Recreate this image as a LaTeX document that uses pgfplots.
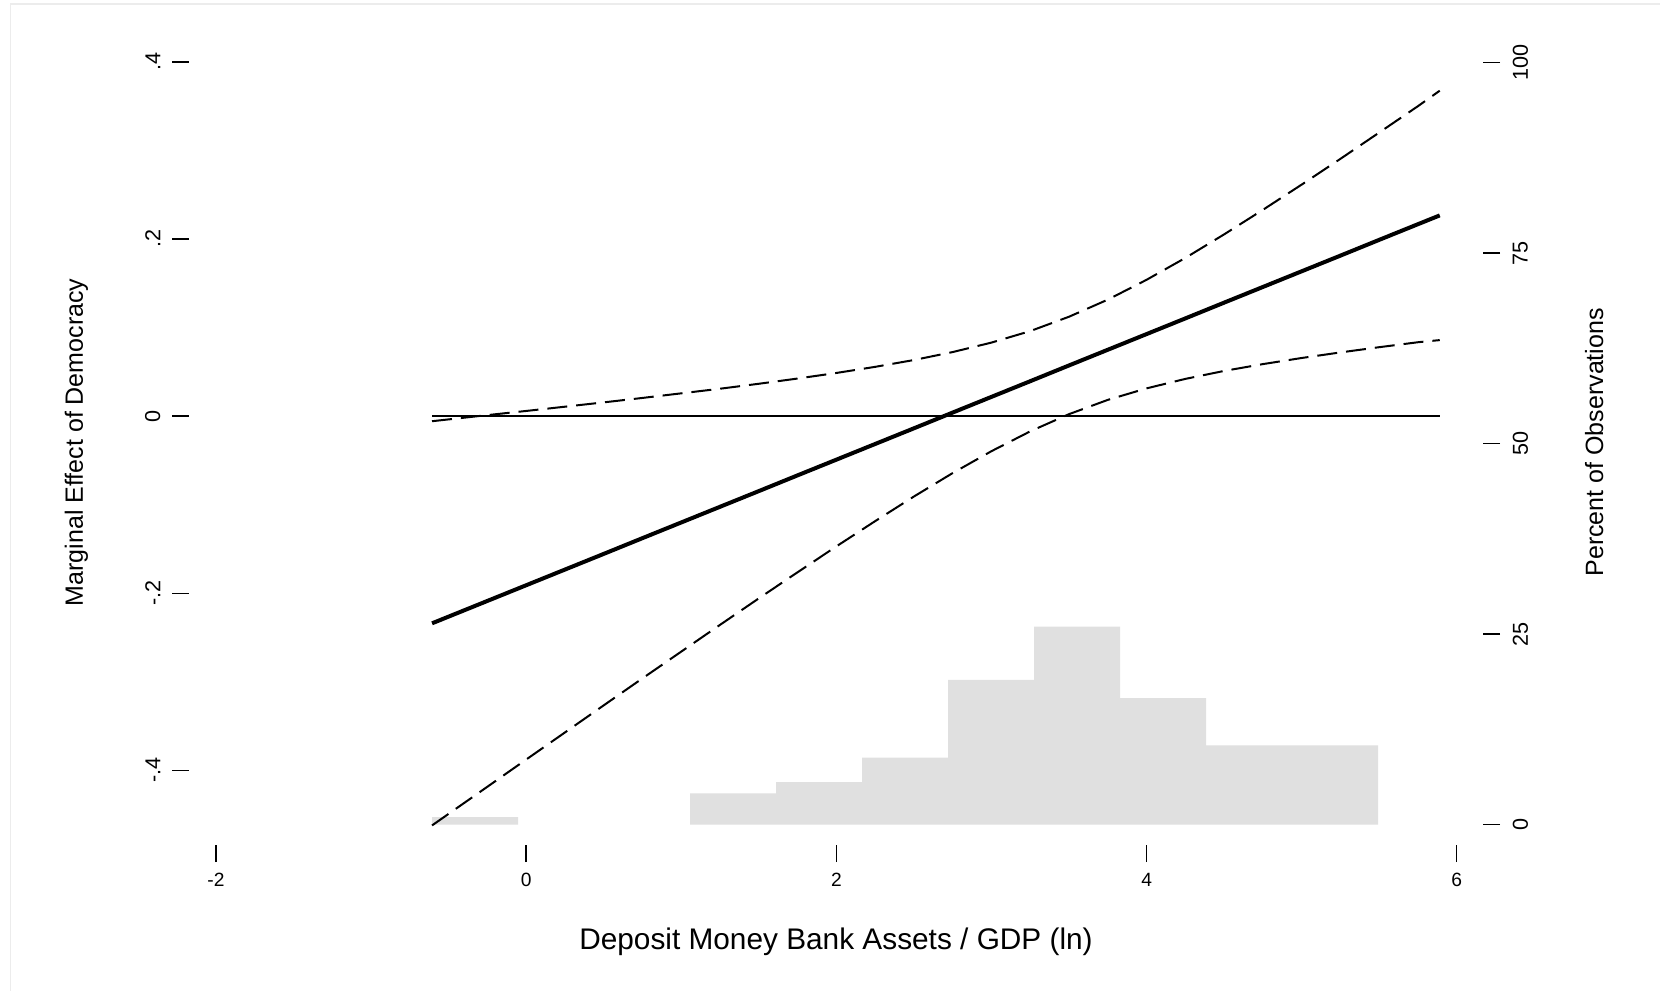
\documentclass[border=0pt]{standalone}
\usepackage{fontspec}
\setmainfont{Liberation Sans}
\usepackage{pgfplots}
\pgfplotsset{compat=1.18}
\usepackage{pgfplotstable}

\definecolor{histgray}{RGB}{224,224,224}
\definecolor{framegray}{RGB}{236,236,236}

% Marginal effect of democracy with 95% confidence bounds
\pgfplotstableread{
x       m        upper    lower
-0.607  -0.2340  -0.0058  -0.4622
-0.25   -0.2087   0.0011  -0.4185
0.00    -0.1910   0.0058  -0.3878
0.25    -0.1733   0.0106  -0.3572
0.50    -0.1556   0.0155  -0.3266
0.75    -0.1378   0.0205  -0.2961
1.00    -0.1201   0.0257  -0.2659
1.25    -0.1024   0.0309  -0.2357
1.50    -0.0847   0.0365  -0.2058
1.75    -0.0669   0.0424  -0.1763
2.00    -0.0492   0.0487  -0.1471
2.25    -0.0315   0.0556  -0.1186
2.50    -0.0138   0.0633  -0.0908
2.75     0.0040   0.0723  -0.0643
3.00     0.0217   0.0830  -0.0396
3.25     0.0394   0.0960  -0.0172
3.50     0.0572   0.1122   0.0022
3.75     0.0749   0.1315   0.0183
4.00     0.0926   0.1539   0.0313
4.25     0.1103   0.1786   0.0420
4.50     0.1281   0.2052   0.0510
4.75     0.1458   0.2329   0.0587
5.00     0.1635   0.2614   0.0656
5.25     0.1812   0.2905   0.0719
5.50     0.1990   0.3202   0.0778
5.75     0.2167   0.3500   0.0834
5.89     0.2266   0.3674   0.0858
}\effect

% Distribution of observations: percent per bin, left bin edges
% (the two empty bins between -0.052 and 1.057 are left out)
\pgfplotstableread{
edge    pct
-0.607  1.0
-0.052  1.0
}\histlow
\pgfplotstableread{
edge    pct
1.057   4.1
1.611   5.6
2.166   8.8
2.720   19.0
3.275   26.0
3.829   16.6
4.384   10.4
4.938   10.4
5.493   10.4
}\histhigh

\pgfplotsset{
  stataframe/.style={
    scale only axis,
    width=647pt, height=402.65pt,
    at={(94.5pt,73pt)}, anchor=south west,
    axis line style={draw=none},
    tick align=outside,
    major tick length=8.5pt,
    tick style={black, line width=0.7pt},
    xmin=-2.174, xmax=6.169,
    /pgf/number format/assume math mode=true,
    tick label style={font=\fontsize{9.6}{11}\selectfont},
  }
}

\begin{document}
\begin{tikzpicture}
\useasboundingbox (0,0) rectangle (830pt,495.5pt);
\fill[white] (0,0) rectangle (830pt,495.5pt);
\draw[framegray, line width=0.6pt] (5.25pt,0) -- (5.25pt,493.5pt) -- (830pt,493.5pt);

% histogram on the right-hand percent scale
\begin{axis}[stataframe,
  axis x line=none, axis y line*=right,
  ymin=-2.663, ymax=103.0,
  ytick={0,25,50,75,100},
  yticklabels={\rotatebox{90}{0},\rotatebox{90}{25},\rotatebox{90}{50},\rotatebox{90}{75},\rotatebox{90}{100}},
  yticklabel style={anchor=west, inner sep=0pt, xshift=6.15pt,
                    font=\fontsize{10.8}{12}\selectfont},
  ylabel={Percent of Observations},
  ylabel style={at={(axis description cs:1,0.5)}, anchor=base, yshift=-60pt,
                font=\fontsize{12.5}{14}\selectfont},
]
\addplot[const plot mark left, fill=histgray, draw=none] table[x=edge, y=pct] {\histlow} \closedcycle;
\addplot[const plot mark left, fill=histgray, draw=none] table[x=edge, y=pct] {\histhigh} \closedcycle;
\end{axis}

% marginal effect and confidence bounds
\begin{axis}[stataframe,
  axis x line*=bottom, axis y line*=left,
  ymin=-0.4843, ymax=0.425,
  xtick={-2,0,2,4,6}, xticklabels={-2,0,2,4,6},
  ytick={-0.4,-0.2,0,0.2,0.4},
  yticklabels={\rotatebox{90}{-.4},\rotatebox{90}{-.2},\rotatebox{90}{0},\rotatebox{90}{.2},\rotatebox{90}{.4}},
  yticklabel style={anchor=east, inner sep=0pt, xshift=-5.65pt,
                    font=\fontsize{10.8}{12}\selectfont},
  xticklabel style={anchor=base, yshift=-12.35pt},
  xlabel={Deposit Money Bank Assets / GDP (ln)},
  xlabel style={at={(axis description cs:0.5,0)}, anchor=base, yshift=-52.25pt,
                font=\fontsize{14.9}{17}\selectfont},
  ylabel={Marginal Effect of Democracy},
  ylabel style={at={(axis description cs:0,0.5)}, anchor=base, yshift=53pt,
                font=\fontsize{12.5}{14}\selectfont},
]
\addplot[black, line width=0.8pt] coordinates {(-0.607,0) (5.89,0)};
\addplot[black, line width=1pt, dash pattern=on 10pt off 4.5pt] table[x=x, y=upper] {\effect};
\addplot[black, line width=1pt, dash pattern=on 10pt off 4.5pt] table[x=x, y=lower] {\effect};
\addplot[black, line width=2pt] table[x=x, y=m] {\effect};
\end{axis}
\end{tikzpicture}
\end{document}
